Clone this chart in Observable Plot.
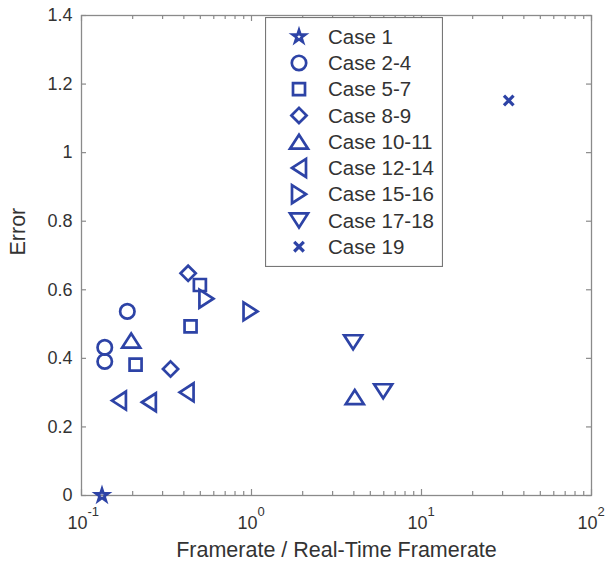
<!DOCTYPE html>
<html><head><meta charset="utf-8">
<script src="https://cdn.jsdelivr.net/npm/d3@7"></script>
<script src="https://cdn.jsdelivr.net/npm/@observablehq/plot@0.6"></script>
<style>
html,body{margin:0;padding:0;background:#fff;}
#wrap{position:relative;width:605px;height:562px;font-family:"Liberation Sans",Arial,sans-serif;}
#legend{position:absolute;left:265px;top:17px;}
</style></head><body><div id="wrap"></div>
<script>
// ---- data ----
const caseNames = ["Case 1","Case 2-4","Case 5-7","Case 8-9","Case 10-11","Case 12-14","Case 15-16","Case 17-18","Case 19"];
const case1X = [0.132];                 const case1Y = [0];
const case2_4X = [0.186, 0.137, 0.137]; const case2_4Y = [0.537, 0.432, 0.391];
const case5_7X = [0.208, 0.497, 0.438]; const case5_7Y = [0.382, 0.614, 0.493];
const case8_9X = [0.424, 0.334];        const case8_9Y = [0.648, 0.369];
const case10_11X = [0.196, 4.05];       const case10_11Y = [0.452, 0.287];
const case12_14X = [0.166, 0.249, 0.415]; const case12_14Y = [0.277, 0.272, 0.301];
const case15_16X = [0.543, 0.987];      const case15_16Y = [0.574, 0.537];
const case17_18X = [3.96, 5.95];        const case17_18Y = [0.447, 0.304];
const case19X = [32.6];                 const case19Y = [1.152];
const xMajorTicks = [0.1, 1, 10, 100];
const xExponentLabels = ["-1", "0", "1", "2"];
const yTicks = [0, 0.2, 0.4, 0.6, 0.8, 1, 1.2, 1.4];
const yTickLabels = ["0", "0.2", "0.4", "0.6", "0.8", "1", "1.2", "1.4"];
const xTitle = "Framerate / Real-Time Framerate";
const yTitle = "Error";

// ---- styles ----
const BLUE = "#2d43a6";
const AXIS = "#8a8a8a";
const TXT = "#333";
const SW = 2.7;

function sym(fn){ return {draw(c, size){ fn(c, Math.sqrt(size / Math.PI)); }}; }
function poly(c, pts){ pts.forEach(([x,y],i)=> i ? c.lineTo(x,y) : c.moveTo(x,y)); c.closePath(); }
const symbols = {
  star: sym((c,R)=>{ const ro=0.82*R, ri=ro*0.382, pts=[]; for(let i=0;i<10;i++){const r=i%2?ri:ro, a=-Math.PI/2+i*Math.PI/5; pts.push([r*Math.cos(a), r*Math.sin(a)]);} poly(c,pts); }),
  circle: sym((c,R)=>{ const r=0.9*R; c.moveTo(r,0); c.arc(0,0,r,0,2*Math.PI); c.closePath(); }),
  square: sym((c,R)=>{ const h=0.75*R; poly(c,[[-h,-h],[h,-h],[h,h],[-h,h]]); }),
  diamond: sym((c,R)=>{ const h=0.95*R; poly(c,[[0,-h],[h,0],[0,h],[-h,0]]); }),
  up: sym((c,R)=>{ const w=1.125*R, h=0.875*R; poly(c,[[0,-h],[w,h],[-w,h]]); }),
  left: sym((c,R)=>{ const w=1.125*R, h=0.875*R; poly(c,[[-h,0],[h,-w],[h,w]]); }),
  right: sym((c,R)=>{ const w=1.125*R, h=0.875*R; poly(c,[[h,0],[-h,-w],[-h,w]]); }),
  down: sym((c,R)=>{ const w=1.125*R, h=0.875*R; poly(c,[[0,h],[w,-h],[-w,-h]]); }),
  times: sym((c,R)=>{ const a=0.6*R; c.moveTo(-a,-a); c.lineTo(a,a); c.moveTo(-a,a); c.lineTo(a,-a); })
};

const series = [
  {xs: case1X, ys: case1Y, s: symbols.star},
  {xs: case2_4X, ys: case2_4Y, s: symbols.circle},
  {xs: case5_7X, ys: case5_7Y, s: symbols.square},
  {xs: case8_9X, ys: case8_9Y, s: symbols.diamond},
  {xs: case10_11X, ys: case10_11Y, s: symbols.up},
  {xs: case12_14X, ys: case12_14Y, s: symbols.left},
  {xs: case15_16X, ys: case15_16Y, s: symbols.right},
  {xs: case17_18X, ys: case17_18Y, s: symbols.down},
  {xs: case19X, ys: case19Y, s: symbols.times, sw: 3.2}
];

const xAllTicks = d3.scaleLog().domain([0.1, 100]).ticks();
const xMinorTicks = xAllTicks.filter(t => !xMajorTicks.some(m => Math.abs(m - t) < 1e-9));

const mL = 81, mR = 14, mT = 15, mB = 67, W = 605, H = 562;
const fw = W - mL - mR, fh = H - mT - mB;

const dotMarks = series.map(sr => Plot.dot(sr.xs.map((x,i)=>({x, y: sr.ys[i]})), {
  x: "x", y: "y", symbol: sr.s, r: 8, stroke: BLUE, strokeWidth: sr.sw || SW, fill: "none"
}));

const chart = Plot.plot({
  width: W, height: H,
  marginLeft: mL, marginRight: mR, marginTop: mT, marginBottom: mB,
  style: {fontFamily: '"Liberation Sans", Arial, sans-serif', color: TXT, background: "#fff", overflow: "visible"},
  x: {type: "log", domain: [0.1, 100], axis: null},
  y: {domain: [0, 1.4], axis: null},
  marks: [
    Plot.ruleX(xMinorTicks, {x: d => d, insetTop: fh - 4, stroke: AXIS, strokeWidth: 1.2}),
    Plot.ruleX(xMinorTicks, {x: d => d, insetBottom: fh - 4, stroke: AXIS, strokeWidth: 1.2}),
    Plot.ruleX(xMajorTicks, {x: d => d, insetTop: fh - 6, stroke: AXIS, strokeWidth: 1.2}),
    Plot.ruleX(xMajorTicks, {x: d => d, insetBottom: fh - 6, stroke: AXIS, strokeWidth: 1.2}),
    Plot.ruleY(yTicks, {y: d => d, insetRight: fw - 5, stroke: AXIS, strokeWidth: 1.2}),
    Plot.ruleY(yTicks, {y: d => d, insetLeft: fw - 5, stroke: AXIS, strokeWidth: 1.2}),
    Plot.frame({stroke: AXIS, strokeWidth: 1.3}),
    Plot.text(yTicks, {y: d => d, text: (d, i) => yTickLabels[i], frameAnchor: "left", dx: -9, textAnchor: "end", fontSize: 18, fill: TXT}),
    Plot.text(xMajorTicks, {x: d => d, text: () => "10", frameAnchor: "bottom", dx: -4, dy: 33, lineAnchor: "bottom", fontSize: 18, fill: TXT}),
    Plot.text(xMajorTicks, {x: d => d, text: (d, i) => xExponentLabels[i], frameAnchor: "bottom", dx: 6, dy: 20, textAnchor: "start", lineAnchor: "bottom", fontSize: 13, fill: TXT}),
    Plot.text([xTitle], {text: d => d, frameAnchor: "bottom", dy: 61, lineAnchor: "bottom", fontSize: 21.5, fill: TXT}),
    Plot.text([yTitle], {text: d => d, frameAnchor: "left", dx: -63, rotate: -90, fontSize: 21.5, fill: TXT}),
    ...dotMarks
  ]
});
document.getElementById("wrap").appendChild(chart);

// ---- legend (overlay) ----
const LW = 178, LH = 250, rowY0 = 19.7, rowStep = 26.25;
const leg = d3.select("#wrap").append("svg").attr("id", "legend").attr("width", LW).attr("height", LH);
leg.append("rect").attr("x", 0.5).attr("y", 0.5).attr("width", LW - 1).attr("height", LH - 1)
  .attr("fill", "#fff").attr("stroke", "#777").attr("stroke-width", 1.2);
const legSymbols = series.map(s => s.s);
caseNames.forEach((name, i) => {
  const y = rowY0 + i * rowStep;
  const p = d3.path(); legSymbols[i].draw(p, 64 * Math.PI);
  leg.append("path").attr("d", p.toString()).attr("transform", `translate(34,${y})`)
    .attr("fill", "none").attr("stroke", BLUE).attr("stroke-width", series[i].sw || SW);
  leg.append("text").attr("x", 63).attr("y", y).attr("dy", "0.35em").attr("fill", TXT)
    .attr("font-size", 20.5).attr("font-family", '"Liberation Sans", Arial, sans-serif').text(name);
});
</script></body></html>
